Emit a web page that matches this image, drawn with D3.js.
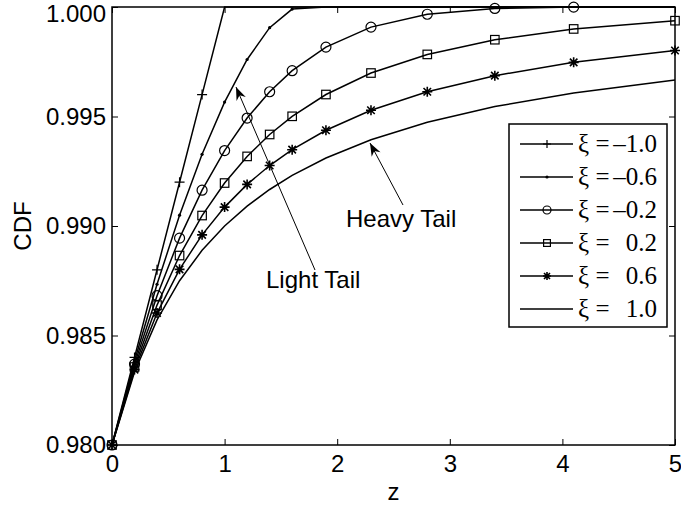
<!DOCTYPE html>
<html><head><meta charset="utf-8">
<script src="https://cdn.jsdelivr.net/npm/d3@7"></script>
<style>body{margin:0;background:#fff}svg{display:block}</style>
</head><body>
<svg id="c" width="681" height="509"></svg>
<script>
// ---- data ----
const zValues = [0, 0.2, 0.4, 0.6, 0.8, 1.0, 1.2, 1.4, 1.6, 1.9, 2.3, 2.8, 3.4, 4.1, 5.0];
const xiLabels = ["–1.0", "–0.6", "–0.2", "0.2", "0.6", "1.0"];
const markerTypes = ["plus", "dot", "circle", "square", "star", "none"];
const cdfXiM10 = [0.98, 0.984, 0.988, 0.992, 0.996, 1.0, 1.0, 1.0, 1.0, 1.0, 1.0, 1.0, 1.0, 1.0, 1.0];
const cdfXiM06 = [0.98, 0.983838, 0.987341, 0.990494, 0.993275, 0.995657, 0.997603, 0.999057, 0.999906, 1.0, 1.0, 1.0, 1.0, 1.0, 1.0];
const cdfXiM02 = [0.98, 0.983693, 0.986818, 0.989445, 0.991636, 0.993446, 0.994929, 0.996130, 0.997092, 0.998168, 0.999082, 0.999670, 0.999933, 0.999996, 1.0];
const cdfXiP02 = [0.98, 0.983561, 0.986388, 0.988651, 0.990478, 0.991962, 0.993178, 0.994179, 0.995009, 0.996004, 0.996985, 0.997835, 0.998506, 0.998998, 0.999375];
const cdfXiP06 = [0.98, 0.983442, 0.986025, 0.988021, 0.989595, 0.990862, 0.991900, 0.992761, 0.993485, 0.994372, 0.995286, 0.996132, 0.996865, 0.997473, 0.998016];
const cdfXiP10 = [0.98, 0.983333, 0.985714, 0.9875, 0.988889, 0.99, 0.990909, 0.991667, 0.992308, 0.993103, 0.993939, 0.994737, 0.995455, 0.996078, 0.996667];
const seriesValues = [cdfXiM10, cdfXiM06, cdfXiM02, cdfXiP02, cdfXiP06, cdfXiP10];
const xTicks = [0, 1, 2, 3, 4, 5];
const yTicks = [0.980, 0.985, 0.990, 0.995, 1.000];

// ---- layout ----
const L = 112, R = 675, T = 7, B = 445;
const svg = d3.select("#c");
const x = d3.scaleLinear().domain([0, 5]).range([L, R]);
const y = d3.scaleLinear().domain([0.98, 1.0]).range([B, T]);
const sans = "'Liberation Sans', Arial, Helvetica, sans-serif";
const serif = "'Liberation Serif', 'Times New Roman', serif";

// axes
const gx = svg.append("g").attr("transform", `translate(0,${B})`)
  .call(d3.axisBottom(x).tickValues(xTicks).tickFormat(d3.format("d")).tickSizeInner(-6).tickSizeOuter(0).tickPadding(10));
const gy = svg.append("g").attr("transform", `translate(${L},0)`)
  .call(d3.axisLeft(y).tickValues(yTicks).tickFormat(d3.format(".3f")).tickSizeInner(-6).tickSizeOuter(0).tickPadding(6));
const gxt = svg.append("g").attr("transform", `translate(0,${T})`)
  .call(d3.axisTop(x).tickValues(xTicks).tickFormat("").tickSizeInner(-6).tickSizeOuter(0));
const gyr = svg.append("g").attr("transform", `translate(${R},0)`)
  .call(d3.axisRight(y).tickValues(yTicks).tickFormat("").tickSizeInner(-6).tickSizeOuter(0));
[gx, gy, gxt, gyr].forEach(g => {
  g.select(".domain").remove();
  g.selectAll(".tick line").attr("stroke", "#000").attr("stroke-width", 1);
  g.selectAll("text").attr("font-family", sans).attr("font-size", 24).attr("fill", "#000");
});
gx.selectAll("text").attr("dy", "0.71em");
gy.selectAll("text").filter(d => d === 1.0).attr("dy", "0.62em");
svg.append("rect").attr("x", L).attr("y", T).attr("width", R - L).attr("height", B - T)
  .attr("fill", "none").attr("stroke", "#000").attr("stroke-width", 1.5);

svg.append("text").attr("x", (L + R) / 2).attr("y", 500).attr("text-anchor", "middle")
  .attr("font-family", sans).attr("font-size", 24).text("z");
svg.append("text").attr("transform", `translate(31,${(T + B) / 2}) rotate(-90)`).attr("text-anchor", "middle")
  .attr("font-family", sans).attr("font-size", 24).text("CDF");

// markers
function drawMarker(g, type, cx, cy, s) {
  const st = {stroke: "#000", "stroke-width": 1.2, fill: "none"};
  let el;
  if (type === "plus") el = g.append("path").attr("d", `M${cx - s},${cy}H${cx + s}M${cx},${cy - s}V${cy + s}`);
  else if (type === "dot") { g.append("circle").attr("cx", cx).attr("cy", cy).attr("r", 1.6).attr("fill", "#000"); return; }
  else if (type === "circle") el = g.append("circle").attr("cx", cx).attr("cy", cy).attr("r", s);
  else if (type === "square") el = g.append("rect").attr("x", cx - s * 0.85).attr("y", cy - s * 0.85).attr("width", s * 1.7).attr("height", s * 1.7);
  else if (type === "star") { const d = s * 0.75;
    el = g.append("path").attr("d", `M${cx - s},${cy}H${cx + s}M${cx},${cy - s}V${cy + s}M${cx - d},${cy - d}L${cx + d},${cy + d}M${cx - d},${cy + d}L${cx + d},${cy - d}`).attr("stroke-width", 1.6); }
  else return;
  for (const k in st) if (!(k === "stroke-width" && type === "star")) el.attr(k, st[k]);
}

const line = d3.line().x((d, i) => x(zValues[i])).y(d => y(d));
seriesValues.forEach((vals, si) => {
  const g = svg.append("g");
  g.append("path").attr("d", line(vals)).attr("fill", "none").attr("stroke", "#000").attr("stroke-width", 1.5);
  vals.forEach((v, i) => { if (v < 1.0) drawMarker(g, markerTypes[si], x(zValues[i]), y(v), 5); });
});

// annotations
function arrow(x1, y1, x2, y2) {
  svg.append("line").attr("x1", x1).attr("y1", y1).attr("x2", x2).attr("y2", y2).attr("stroke", "#000").attr("stroke-width", 1);
  const a = Math.atan2(y2 - y1, x2 - x1), len = 13, w = 5, back = 9;
  const ux = Math.cos(a), uy = Math.sin(a), px = -uy, py = ux;
  const pts = [[x2, y2], [x2 - ux * len + px * w, y2 - uy * len + py * w], [x2 - ux * back, y2 - uy * back], [x2 - ux * len - px * w, y2 - uy * len - py * w]];
  svg.append("path").attr("d", "M" + pts.map(p => p.join(",")).join("L") + "Z").attr("fill", "#000");
}
arrow(315, 270, 236, 87);
arrow(403, 205, 370, 143);
svg.append("text").attr("x", 266).attr("y", 288).attr("font-family", sans).attr("font-size", 24).text("Light Tail");
svg.append("text").attr("x", 346).attr("y", 227).attr("font-family", sans).attr("font-size", 24).text("Heavy Tail");

// legend
const lg = svg.append("g");
lg.append("rect").attr("x", 509).attr("y", 124).attr("width", 158).attr("height", 203)
  .attr("fill", "#fff").attr("stroke", "#000").attr("stroke-width", 1.5);
xiLabels.forEach((lab, i) => {
  const cy = 144 + i * 33;
  lg.append("line").attr("x1", 520).attr("x2", 573).attr("y1", cy).attr("y2", cy).attr("stroke", "#000").attr("stroke-width", 1.5);
  drawMarker(lg, markerTypes[i], 547, cy, 4);
  lg.append("text").attr("x", 578).attr("y", cy + 8).attr("font-family", serif).attr("font-size", 25).text("ξ =");
  lg.append("text").attr("x", 657).attr("y", cy + 8).attr("text-anchor", "end").attr("font-family", serif).attr("font-size", 25).text(lab);
});
</script>
</body></html>
